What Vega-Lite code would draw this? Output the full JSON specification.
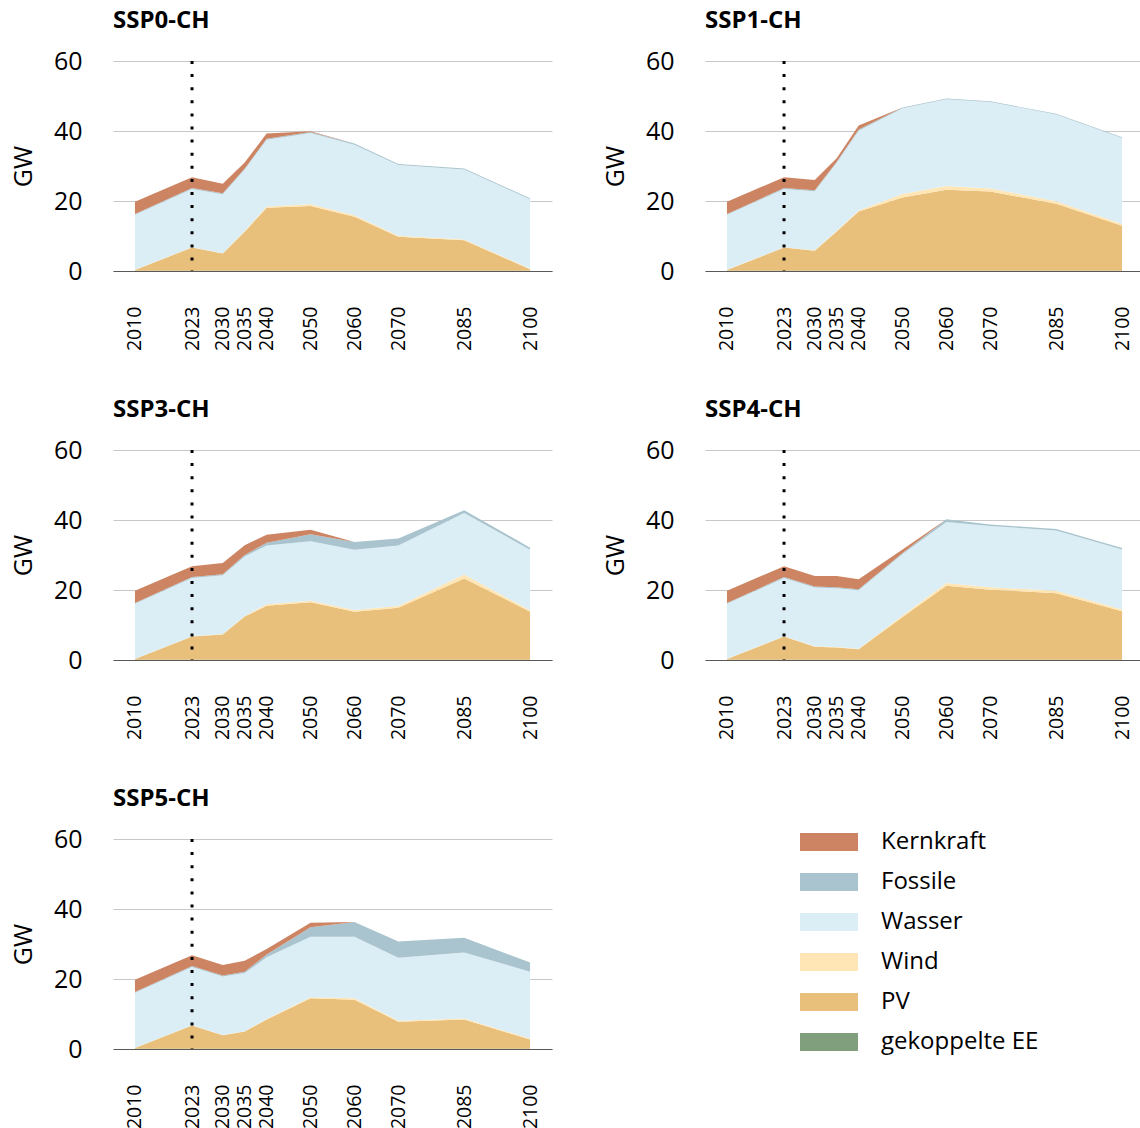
{
  "$schema": "https://vega.github.io/schema/vega-lite/v6.json",
  "padding": {"left": 11, "top": 9, "right": 0, "bottom": 0},
  "data": {"values": [
    {"s": "SSP0-CH", "year": 2010, "gekoppelte EE": 0.1, "PV": 0.2, "Wind": 0.05, "Wasser": 15.7, "Fossile": 0.25, "Kernkraft": 3.5},
    {"s": "SSP0-CH", "year": 2023, "gekoppelte EE": 0.1, "PV": 6.6, "Wind": 0.1, "Wasser": 16.6, "Fossile": 0.3, "Kernkraft": 3.1},
    {"s": "SSP0-CH", "year": 2030, "gekoppelte EE": 0.1, "PV": 4.9, "Wind": 0.1, "Wasser": 16.8, "Fossile": 0.3, "Kernkraft": 2.7},
    {"s": "SSP0-CH", "year": 2035, "gekoppelte EE": 0.1, "PV": 11.1, "Wind": 0.2, "Wasser": 17.6, "Fossile": 0.3, "Kernkraft": 1.7},
    {"s": "SSP0-CH", "year": 2040, "gekoppelte EE": 0.1, "PV": 18.0, "Wind": 0.3, "Wasser": 19.1, "Fossile": 0.3, "Kernkraft": 1.5},
    {"s": "SSP0-CH", "year": 2050, "gekoppelte EE": 0.1, "PV": 18.5, "Wind": 0.5, "Wasser": 20.3, "Fossile": 0.3, "Kernkraft": 0.2},
    {"s": "SSP0-CH", "year": 2060, "gekoppelte EE": 0.1, "PV": 15.4, "Wind": 0.4, "Wasser": 20.2, "Fossile": 0.3, "Kernkraft": 0},
    {"s": "SSP0-CH", "year": 2070, "gekoppelte EE": 0.1, "PV": 9.7, "Wind": 0.3, "Wasser": 20.2, "Fossile": 0.3, "Kernkraft": 0},
    {"s": "SSP0-CH", "year": 2085, "gekoppelte EE": 0.1, "PV": 8.7, "Wind": 0.2, "Wasser": 20.0, "Fossile": 0.3, "Kernkraft": 0},
    {"s": "SSP0-CH", "year": 2100, "gekoppelte EE": 0.1, "PV": 0.4, "Wind": 0.2, "Wasser": 19.8, "Fossile": 0.3, "Kernkraft": 0},

    {"s": "SSP1-CH", "year": 2010, "gekoppelte EE": 0.1, "PV": 0.2, "Wind": 0.05, "Wasser": 15.7, "Fossile": 0.25, "Kernkraft": 3.5},
    {"s": "SSP1-CH", "year": 2023, "gekoppelte EE": 0.1, "PV": 6.6, "Wind": 0.1, "Wasser": 16.6, "Fossile": 0.3, "Kernkraft": 3.1},
    {"s": "SSP1-CH", "year": 2030, "gekoppelte EE": 0.1, "PV": 5.7, "Wind": 0.1, "Wasser": 16.9, "Fossile": 0.3, "Kernkraft": 2.9},
    {"s": "SSP1-CH", "year": 2035, "gekoppelte EE": 0.1, "PV": 11.2, "Wind": 0.2, "Wasser": 19.4, "Fossile": 0.3, "Kernkraft": 1.0},
    {"s": "SSP1-CH", "year": 2040, "gekoppelte EE": 0.1, "PV": 16.9, "Wind": 0.3, "Wasser": 22.8, "Fossile": 0.3, "Kernkraft": 1.2},
    {"s": "SSP1-CH", "year": 2050, "gekoppelte EE": 0.1, "PV": 20.9, "Wind": 1.0, "Wasser": 24.5, "Fossile": 0.2, "Kernkraft": 0},
    {"s": "SSP1-CH", "year": 2060, "gekoppelte EE": 0.1, "PV": 23.1, "Wind": 1.1, "Wasser": 24.8, "Fossile": 0.2, "Kernkraft": 0},
    {"s": "SSP1-CH", "year": 2070, "gekoppelte EE": 0.1, "PV": 22.6, "Wind": 0.9, "Wasser": 24.7, "Fossile": 0.2, "Kernkraft": 0},
    {"s": "SSP1-CH", "year": 2085, "gekoppelte EE": 0.1, "PV": 19.1, "Wind": 0.7, "Wasser": 24.8, "Fossile": 0.2, "Kernkraft": 0},
    {"s": "SSP1-CH", "year": 2100, "gekoppelte EE": 0.1, "PV": 12.8, "Wind": 0.5, "Wasser": 24.6, "Fossile": 0.2, "Kernkraft": 0},

    {"s": "SSP3-CH", "year": 2010, "gekoppelte EE": 0.1, "PV": 0.2, "Wind": 0.05, "Wasser": 15.7, "Fossile": 0.25, "Kernkraft": 3.5},
    {"s": "SSP3-CH", "year": 2023, "gekoppelte EE": 0.1, "PV": 6.6, "Wind": 0.1, "Wasser": 16.6, "Fossile": 0.3, "Kernkraft": 3.1},
    {"s": "SSP3-CH", "year": 2030, "gekoppelte EE": 0.1, "PV": 7.2, "Wind": 0.1, "Wasser": 16.8, "Fossile": 0.3, "Kernkraft": 3.2},
    {"s": "SSP3-CH", "year": 2035, "gekoppelte EE": 0.1, "PV": 12.3, "Wind": 0.2, "Wasser": 17.0, "Fossile": 0.4, "Kernkraft": 2.8},
    {"s": "SSP3-CH", "year": 2040, "gekoppelte EE": 0.1, "PV": 15.4, "Wind": 0.4, "Wasser": 16.8, "Fossile": 0.8, "Kernkraft": 2.3},
    {"s": "SSP3-CH", "year": 2050, "gekoppelte EE": 0.1, "PV": 16.4, "Wind": 0.4, "Wasser": 17.0, "Fossile": 2.0, "Kernkraft": 1.3},
    {"s": "SSP3-CH", "year": 2060, "gekoppelte EE": 0.1, "PV": 13.7, "Wind": 0.5, "Wasser": 17.2, "Fossile": 2.2, "Kernkraft": 0},
    {"s": "SSP3-CH", "year": 2070, "gekoppelte EE": 0.1, "PV": 14.8, "Wind": 0.5, "Wasser": 17.3, "Fossile": 2.0, "Kernkraft": 0},
    {"s": "SSP3-CH", "year": 2085, "gekoppelte EE": 0.1, "PV": 23.2, "Wind": 1.1, "Wasser": 17.6, "Fossile": 0.8, "Kernkraft": 0},
    {"s": "SSP3-CH", "year": 2100, "gekoppelte EE": 0.1, "PV": 13.7, "Wind": 0.4, "Wasser": 17.3, "Fossile": 0.6, "Kernkraft": 0},

    {"s": "SSP4-CH", "year": 2010, "gekoppelte EE": 0.1, "PV": 0.2, "Wind": 0.05, "Wasser": 15.7, "Fossile": 0.25, "Kernkraft": 3.5},
    {"s": "SSP4-CH", "year": 2023, "gekoppelte EE": 0.1, "PV": 6.6, "Wind": 0.1, "Wasser": 16.6, "Fossile": 0.3, "Kernkraft": 3.1},
    {"s": "SSP4-CH", "year": 2030, "gekoppelte EE": 0.1, "PV": 3.7, "Wind": 0.1, "Wasser": 16.8, "Fossile": 0.3, "Kernkraft": 3.0},
    {"s": "SSP4-CH", "year": 2035, "gekoppelte EE": 0.1, "PV": 3.5, "Wind": 0.1, "Wasser": 16.8, "Fossile": 0.3, "Kernkraft": 3.2},
    {"s": "SSP4-CH", "year": 2040, "gekoppelte EE": 0.1, "PV": 3.0, "Wind": 0.1, "Wasser": 16.7, "Fossile": 0.3, "Kernkraft": 2.9},
    {"s": "SSP4-CH", "year": 2050, "gekoppelte EE": 0.1, "PV": 12.2, "Wind": 0.4, "Wasser": 17.6, "Fossile": 0.3, "Kernkraft": 1.0},
    {"s": "SSP4-CH", "year": 2060, "gekoppelte EE": 0.1, "PV": 21.1, "Wind": 0.8, "Wasser": 17.4, "Fossile": 0.8, "Kernkraft": 0},
    {"s": "SSP4-CH", "year": 2070, "gekoppelte EE": 0.1, "PV": 20.0, "Wind": 0.7, "Wasser": 17.5, "Fossile": 0.4, "Kernkraft": 0},
    {"s": "SSP4-CH", "year": 2085, "gekoppelte EE": 0.1, "PV": 19.0, "Wind": 0.7, "Wasser": 17.2, "Fossile": 0.4, "Kernkraft": 0},
    {"s": "SSP4-CH", "year": 2100, "gekoppelte EE": 0.1, "PV": 13.8, "Wind": 0.5, "Wasser": 17.2, "Fossile": 0.4, "Kernkraft": 0},

    {"s": "SSP5-CH", "year": 2010, "gekoppelte EE": 0.1, "PV": 0.2, "Wind": 0.05, "Wasser": 15.7, "Fossile": 0.25, "Kernkraft": 3.5},
    {"s": "SSP5-CH", "year": 2023, "gekoppelte EE": 0.1, "PV": 6.6, "Wind": 0.1, "Wasser": 16.6, "Fossile": 0.3, "Kernkraft": 3.1},
    {"s": "SSP5-CH", "year": 2030, "gekoppelte EE": 0.1, "PV": 3.8, "Wind": 0.1, "Wasser": 16.7, "Fossile": 0.3, "Kernkraft": 3.0},
    {"s": "SSP5-CH", "year": 2035, "gekoppelte EE": 0.1, "PV": 4.9, "Wind": 0.1, "Wasser": 16.6, "Fossile": 0.4, "Kernkraft": 3.1},
    {"s": "SSP5-CH", "year": 2040, "gekoppelte EE": 0.1, "PV": 8.3, "Wind": 0.2, "Wasser": 17.6, "Fossile": 0.8, "Kernkraft": 1.6},
    {"s": "SSP5-CH", "year": 2050, "gekoppelte EE": 0.1, "PV": 14.4, "Wind": 0.3, "Wasser": 17.3, "Fossile": 2.7, "Kernkraft": 1.3},
    {"s": "SSP5-CH", "year": 2060, "gekoppelte EE": 0.1, "PV": 14.0, "Wind": 0.4, "Wasser": 17.6, "Fossile": 4.2, "Kernkraft": 0},
    {"s": "SSP5-CH", "year": 2070, "gekoppelte EE": 0.1, "PV": 7.7, "Wind": 0.3, "Wasser": 18.0, "Fossile": 4.6, "Kernkraft": 0},
    {"s": "SSP5-CH", "year": 2085, "gekoppelte EE": 0.1, "PV": 8.3, "Wind": 0.3, "Wasser": 18.9, "Fossile": 4.2, "Kernkraft": 0},
    {"s": "SSP5-CH", "year": 2100, "gekoppelte EE": 0.1, "PV": 2.6, "Wind": 0.3, "Wasser": 19.1, "Fossile": 2.6, "Kernkraft": 0}
  ]},
  "facet": {
    "field": "s", "type": "nominal", "title": null,
    "header": {"labelFontSize": 24, "labelFontWeight": "bold", "labelAnchor": "start", "labelColor": "black", "labelFont": "Open Sans", "labelPadding": 16}
  },
  "columns": 2,
  "spacing": {"column": 51, "row": 47},
  "resolve": {"axis": {"x": "independent", "y": "independent"}},
  "spec": {
    "width": 439,
    "height": 210,
    "layer": [
      {
        "transform": [
          {"fold": ["gekoppelte EE", "PV", "Wind", "Wasser", "Fossile", "Kernkraft"], "as": ["source", "value"]},
          {"window": [{"op": "row_number", "as": "rank"}], "groupby": ["s", "year"]}
        ],
        "mark": {"type": "area", "opacity": 1, "strokeWidth": 0},
        "encoding": {
          "x": {
            "field": "year", "type": "quantitative",
            "scale": {"domain": [2005, 2105], "nice": false, "zero": false},
            "axis": {"values": [2010, 2023, 2030, 2035, 2040, 2050, 2060, 2070, 2085, 2100], "format": "d", "labelAngle": -90, "labelFontSize": 19.5, "labelPadding": 35, "ticks": false, "grid": false, "domainColor": "#595959", "domainWidth": 1.2, "title": null, "labelOverlap": false, "labelFlush": false, "labelBound": false, "labelColor": "black"}
          },
          "y": {
            "field": "value", "type": "quantitative", "stack": "zero",
            "scale": {"domain": [0, 60], "nice": false},
            "axis": {"values": [0, 20, 40, 60], "title": "GW", "titleFontSize": 25, "titleFontWeight": "normal", "titleColor": "black", "titlePadding": 17, "labelFontSize": 25, "labelPadding": 31, "labelColor": "black", "ticks": false, "domain": false, "gridColor": "#C8C8C8", "gridWidth": 1}
          },
          "color": {
            "field": "source", "type": "nominal",
            "scale": {"domain": ["gekoppelte EE", "PV", "Wind", "Wasser", "Fossile", "Kernkraft"], "range": ["#7F9F7D", "#E8BF7B", "#FFE6B4", "#DBEEF5", "#A9C4CE", "#CD8462"]},
            "legend": {"values": ["Kernkraft", "Fossile", "Wasser", "Wind", "PV", "gekoppelte EE"], "title": null, "orient": "none", "legendX": 685, "legendY": 769}
          },
          "order": {"field": "rank", "type": "quantitative"}
        }
      },
      {
        "transform": [{"filter": "datum.year == 2023"}],
        "mark": {"type": "rule", "color": "black", "strokeWidth": 3, "strokeDash": [3, 10.1], "strokeCap": "butt"},
        "encoding": {"x": {"field": "year", "type": "quantitative"}}
      }
    ]
  },
  "config": {
    "font": "Open Sans",
    "view": {"stroke": null},
    "legend": {"symbolType": "M-1,-0.9H4.8V0.9H-1Z", "symbolSize": 400, "symbolStrokeWidth": 0, "symbolOpacity": 1, "labelFontSize": 24, "labelOffset": 59, "labelColor": "black", "rowPadding": 16, "labelFont": "Open Sans"}
  }
}
